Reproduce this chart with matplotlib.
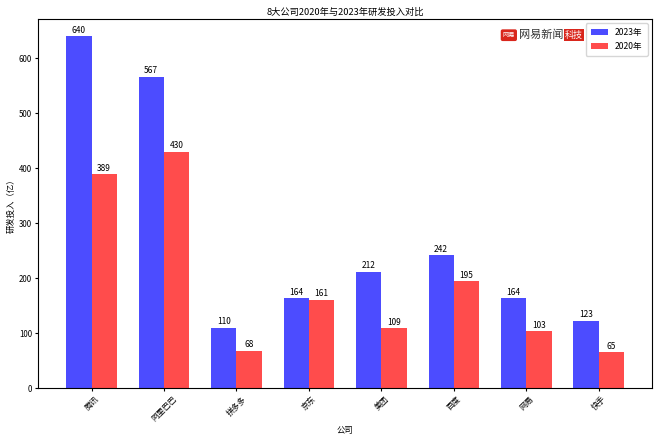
import numpy as np
import matplotlib.pyplot as plt

plt.rcParams['font.family'] = ['Noto Sans CJK SC', 'DejaVu Sans']
plt.rcParams['font.size'] = 6

companies = ['腾讯', '阿里巴巴', '拼多多', '京东', '美团', '百度', '网易', '快手']
rd_2023 = [640, 567, 110, 164, 212, 242, 164, 123]
rd_2020 = [389, 430, 68, 161, 109, 195, 103, 65]

x = np.arange(len(companies))
width = 0.35

fig, ax = plt.subplots(figsize=(6.6, 4.4), dpi=100)
fig.subplots_adjust(left=0.058, right=0.988, top=0.957, bottom=0.118)

b1 = ax.bar(x - width / 2, rd_2023, width, label='2023年', color='blue', alpha=0.7)
b2 = ax.bar(x + width / 2, rd_2020, width, label='2020年', color='red', alpha=0.7)

# numbers above each bar
for bars in (b1, b2):
    for rect in bars:
        h = rect.get_height()
        ax.annotate(f'{int(h)}', xy=(rect.get_x() + rect.get_width() / 2, h),
                    xytext=(0, 1), textcoords='offset points',
                    ha='center', va='bottom', fontsize=6)

ax.set_title('8大公司2020年与2023年研发投入对比', fontsize=6.7, pad=3)
ax.set_xlabel('公司', fontsize=6, labelpad=2)
ax.set_ylabel('研发投入（亿）', fontsize=6, labelpad=2)
ax.set_xticks(x)
ax.set_xticklabels(companies, rotation=45)
ax.tick_params(labelsize=5.7, length=2.5, pad=2)
ax.set_ylim(0, max(rd_2023) * 1.05)
ax.legend(loc='upper right', fontsize=6.2, borderpad=0.6)

# watermark of the source
fig.text(0.771, 0.92, '网易', fontsize=4.5, color='white', ha='center', va='center',
         bbox=dict(boxstyle='round,pad=0.3', fc='#d9261c', ec='none'))
fig.text(0.786, 0.92, '网易新闻', fontsize=8, color='#333333', ha='left', va='center')
fig.text(0.856, 0.92, '科技', fontsize=6.5, color='white', ha='left', va='center',
         bbox=dict(boxstyle='square,pad=0.15', fc='#d9261c', ec='none'))

fig.savefig('out.png')
